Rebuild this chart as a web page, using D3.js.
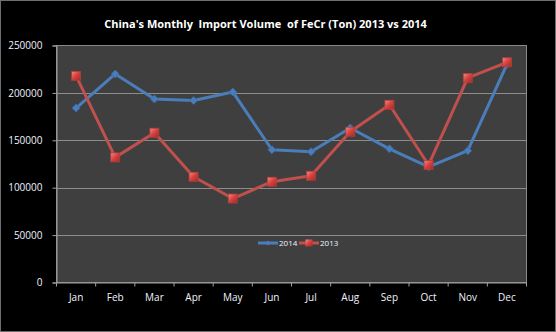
<!DOCTYPE html>
<html><head><meta charset="utf-8">
<script src="https://cdn.jsdelivr.net/npm/d3@7"></script>
<style>html,body{margin:0;padding:0;background:#000;}svg{display:block;}</style>
</head><body>
<script>
const months = ["Jan","Feb","Mar","Apr","May","Jun","Jul","Aug","Sep","Oct","Nov","Dec"];
const values2014 = [184000,220000,193500,192000,201000,140000,138000,163000,141000,122000,139000,230000];
const values2013 = [218000,132000,158000,111500,88600,106300,112600,159000,187500,124000,215800,232300];
const yTicks = [0,50000,100000,150000,200000,250000];
const title = "China's Monthly  Import Volume  of FeCr (Ton) 2013 vs 2014";

(function(){
const W = 556, H = 332;
const svg = d3.select("body").append("svg").attr("width", W).attr("height", H);
svg.append("rect").attr("x",0.5).attr("y",0.5).attr("width",W-1).attr("height",H-1)
  .attr("fill","#000").attr("stroke","#6e6e6e");

const pL = 56.5, pR = 526.5, pT = 45.5, pB = 282.5;
const x = d3.scaleBand().domain(months).range([pL, pR]);
const y = d3.scaleLinear().domain([0,250000]).range([pB, pT]);

svg.append("rect").attr("x",pL).attr("y",pT).attr("width",pR-pL).attr("height",pB-pT)
  .attr("fill","#3f3f3f").attr("stroke","#8a8a8a").attr("stroke-width",1);

svg.append("g").selectAll("line").data(yTicks.slice(1,-1)).join("line")
  .attr("x1",pL).attr("x2",pR).attr("y1",d=>Math.round(y(d))+0.5).attr("y2",d=>Math.round(y(d))+0.5)
  .attr("stroke","#8c8c8c").attr("stroke-width",1);

const fmt = d3.format("d");
const yAxis = svg.append("g").attr("transform",`translate(${pL},0)`)
  .call(d3.axisLeft(y).tickValues(yTicks).tickFormat(fmt).tickSize(4).tickPadding(10));
yAxis.select(".domain").attr("stroke","#a0a0a0");
yAxis.selectAll(".tick line").attr("stroke","#a0a0a0");
yAxis.selectAll("text").attr("fill","#f0f4ff").style("font-family","'Open Sans',sans-serif").style("font-size","10px");

const xAxis = svg.append("g").attr("transform",`translate(0,${pB})`)
  .call(d3.axisBottom(x).tickSize(0).tickPadding(11));
xAxis.select(".domain").attr("stroke","#a0a0a0");
xAxis.selectAll("text").attr("fill","#f0f4ff").style("font-family","'Open Sans',sans-serif").style("font-size","10px");
svg.append("g").selectAll("line").data(months.concat(["_end"])).join("line")
  .attr("x1",(d,i)=>pL + i*x.bandwidth()).attr("x2",(d,i)=>pL + i*x.bandwidth())
  .attr("y1",pB).attr("y2",pB+4).attr("stroke","#a0a0a0");

const cx = m => x(m) + x.bandwidth()/2;
const line = d3.line().x((d,i)=>cx(months[i])).y(d=>y(d));

const defs = svg.append("defs");
const g1 = defs.append("linearGradient").attr("id","redg").attr("x1",0).attr("y1",0).attr("x2",1).attr("y2",1);
g1.append("stop").attr("offset","0%").attr("stop-color","#f08c8a");
g1.append("stop").attr("offset","50%").attr("stop-color","#d6403c");
g1.append("stop").attr("offset","100%").attr("stop-color","#a02c2a");

svg.append("path").datum(values2014).attr("d",line).attr("fill","none")
  .attr("stroke","#4a7ebb").attr("stroke-width",3).attr("stroke-linejoin","round");
svg.append("path").datum(values2013).attr("d",line).attr("fill","none")
  .attr("stroke","#c0504d").attr("stroke-width",3).attr("stroke-linejoin","round");

const diamond = d3.symbol().type(d3.symbolDiamond2).size(40);
svg.append("g").selectAll("path").data(values2014).join("path")
  .attr("d",diamond).attr("transform",(d,i)=>`translate(${cx(months[i])},${y(d)})`)
  .attr("fill","#4a7ebb").attr("stroke","#3a6aa4").attr("stroke-width",0.8);

svg.append("g").selectAll("rect").data(values2013).join("rect")
  .attr("x",(d,i)=>cx(months[i])-4.5).attr("y",d=>y(d)-4.5).attr("width",9).attr("height",9)
  .attr("fill","url(#redg)").attr("stroke","#b03e3b").attr("stroke-width",0.8);

svg.append("text").attr("x",265.5).attr("y",28).attr("text-anchor","middle")
  .attr("fill","#ffffff").style("font-family","'Open Sans',sans-serif").style("font-weight","bold")
  .style("font-size","11px").style("white-space","pre").text(title);

// legend
const lg = svg.append("g").attr("transform","translate(0,243)");
lg.append("line").attr("x1",258).attr("x2",278).attr("y1",0).attr("y2",0).attr("stroke","#4a7ebb").attr("stroke-width",3);
lg.append("path").attr("d",d3.symbol().type(d3.symbolDiamond2).size(16)).attr("transform","translate(268,0)").attr("fill","#4a7ebb");
lg.append("text").attr("x",279).attr("y",3).attr("fill","#f0f4ff").style("font-family","'Open Sans',sans-serif").style("font-size","8px").text("2014");
lg.append("line").attr("x1",299).attr("x2",319).attr("y1",0).attr("y2",0).attr("stroke","#c0504d").attr("stroke-width",3);
lg.append("rect").attr("x",305.5).attr("y",-3.5).attr("width",7).attr("height",7).attr("fill","url(#redg)");
lg.append("text").attr("x",320).attr("y",3).attr("fill","#f0f4ff").style("font-family","'Open Sans',sans-serif").style("font-size","8px").text("2013");
})();
</script>
</body></html>
